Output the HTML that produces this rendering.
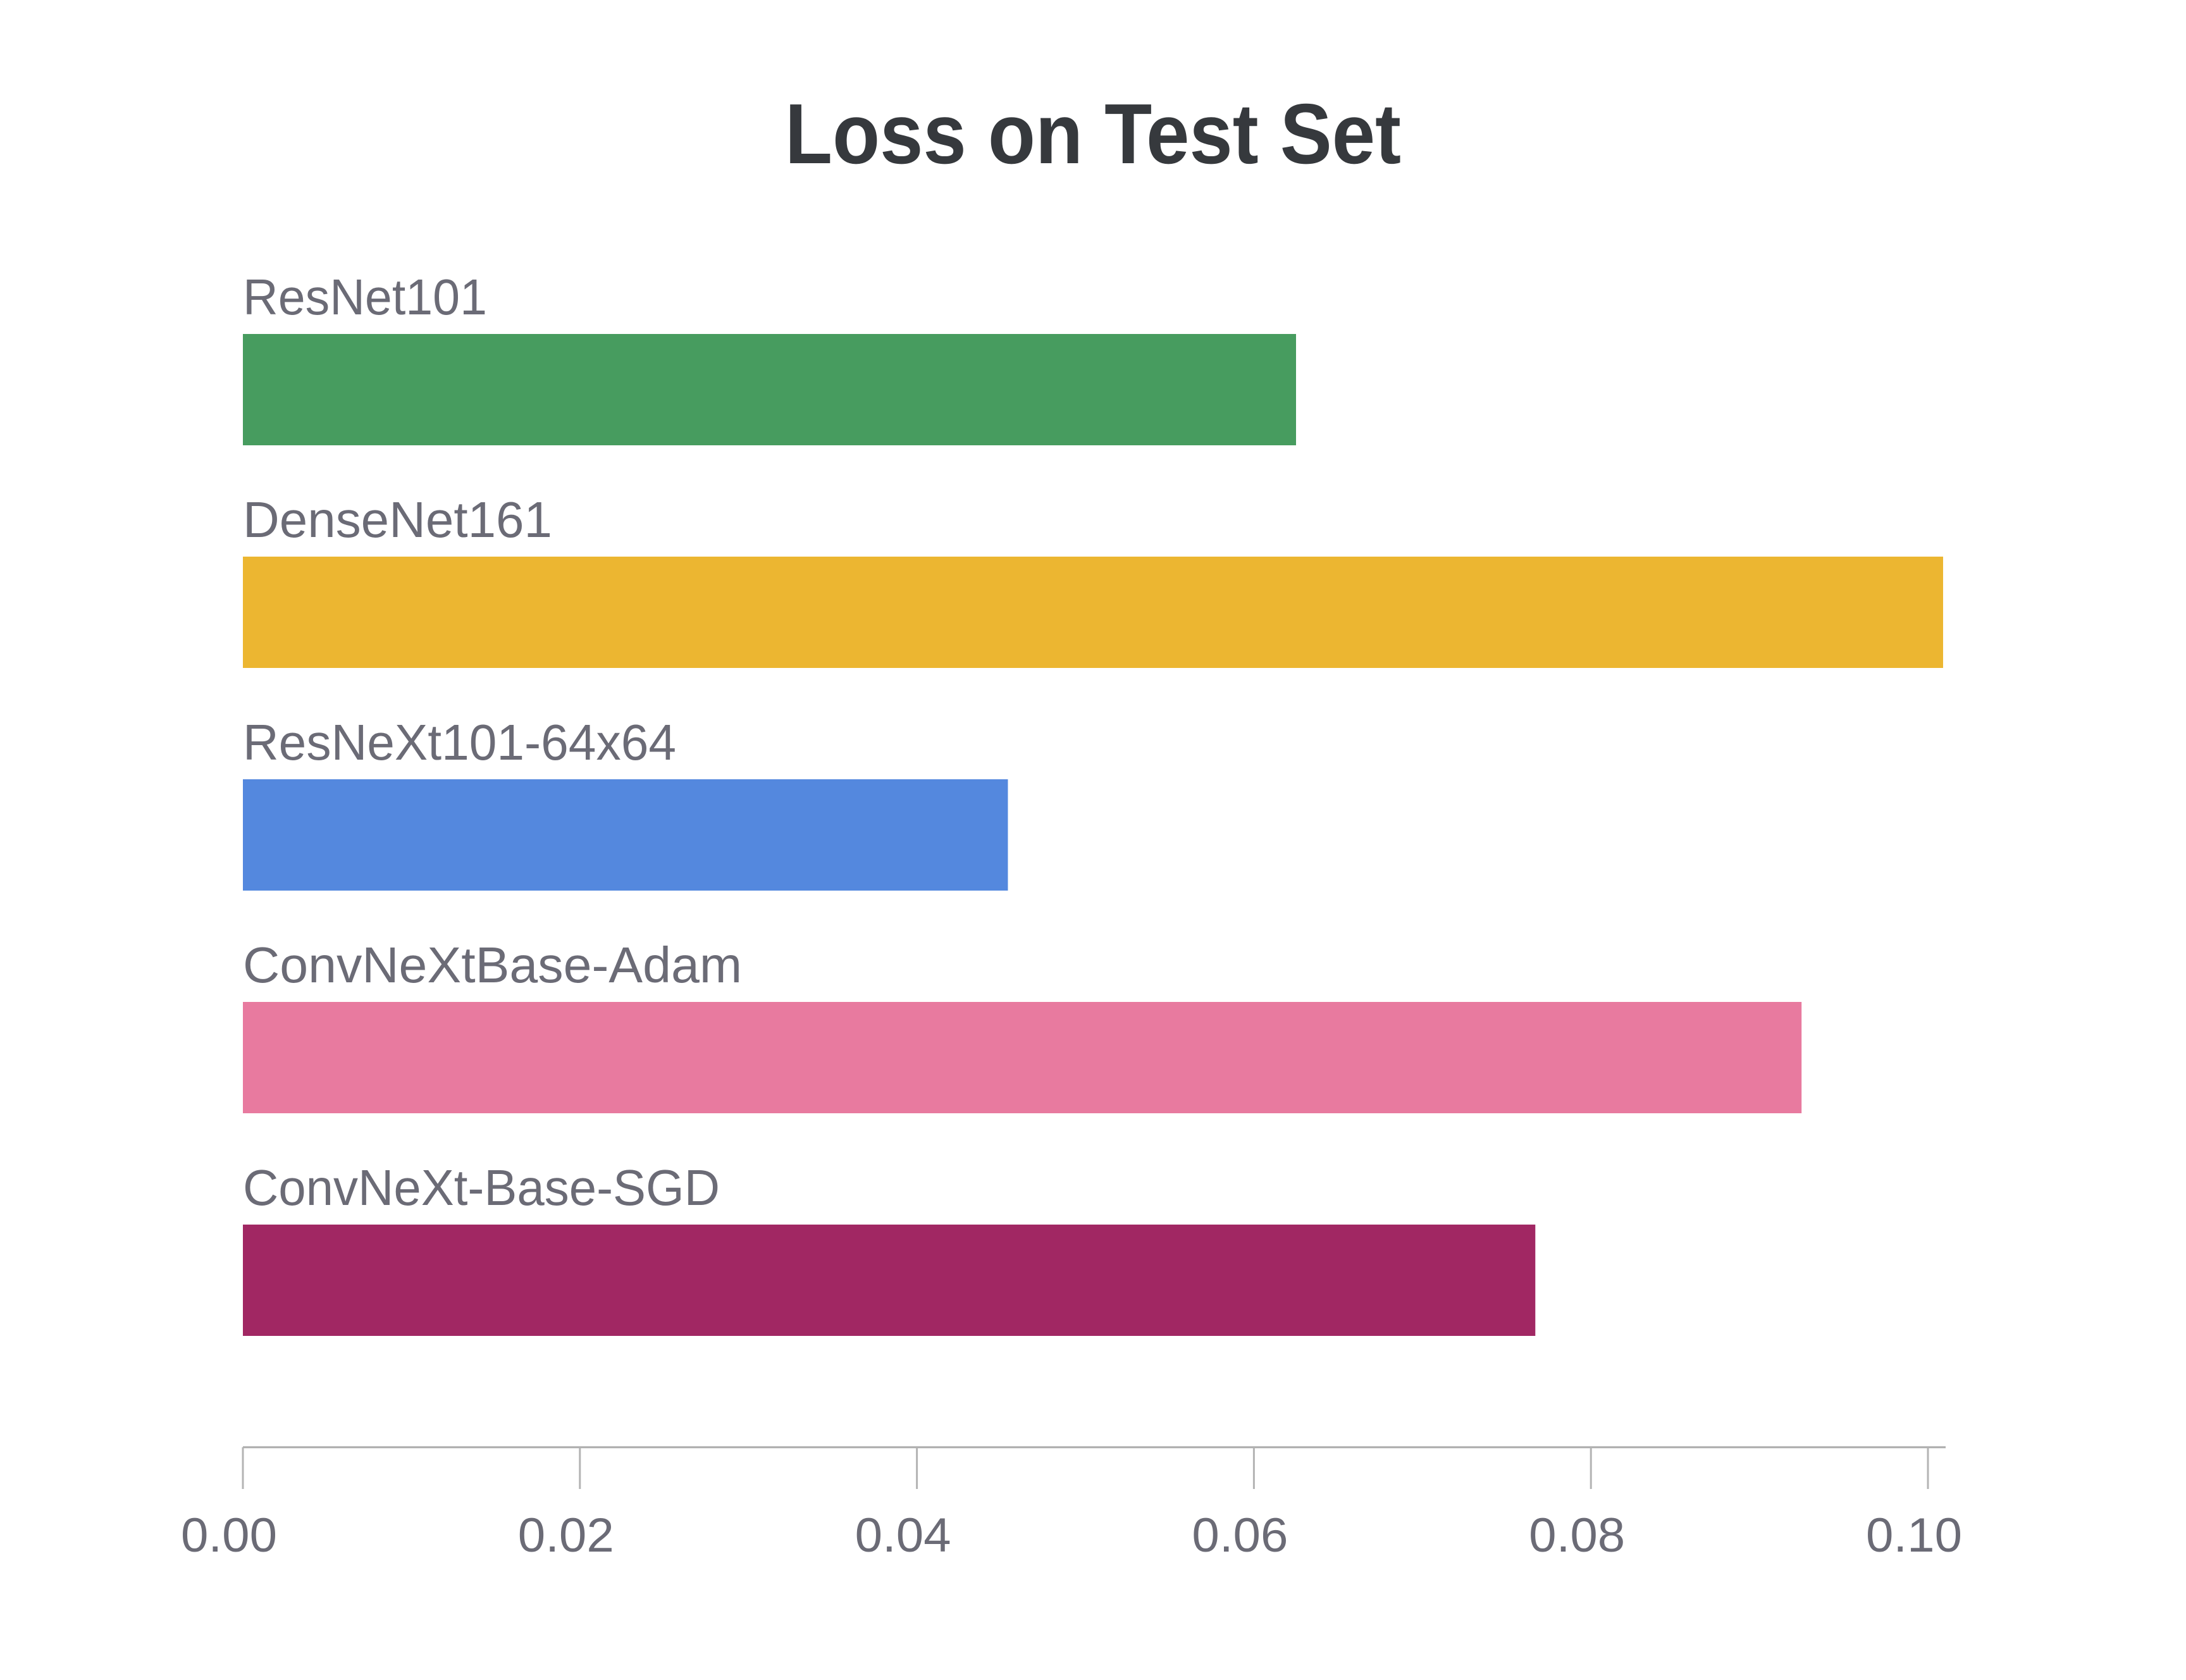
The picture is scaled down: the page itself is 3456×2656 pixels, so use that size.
<!DOCTYPE html>
<html><head><meta charset="utf-8"><style>
html,body{margin:0;padding:0;background:#fff}
svg{display:block}
text{font-family:"Liberation Sans",sans-serif}
</style></head><body>
<svg id="chart" width="3456" height="2656" viewBox="0 0 3456 2656" xmlns="http://www.w3.org/2000/svg">
<rect width="3456" height="2656" fill="#fff"/>
<text x="1728" y="258" text-anchor="middle" font-size="135" font-weight="bold" fill="#36393d" textLength="974" lengthAdjust="spacingAndGlyphs">Loss on Test Set</text>
<g id="bars"></g>
<g id="axis"></g>
</svg>
<script>
const categories = ["ResNet101","DenseNet161","ResNeXt101-64x64","ConvNeXtBase-Adam","ConvNeXt-Base-SGD"];
const values = [0.0625, 0.1009, 0.0454, 0.0925, 0.0767];
const colors = ["#479c5f","#ecb631","#5488de","#e87a9f","#a12763"];
const tickValues = [0, 0.02, 0.04, 0.06, 0.08, 0.10];
const tickLabels = ["0.00","0.02","0.04","0.06","0.08","0.10"];
const labelWidths = [386,489,685,789,754];

const NS = "http://www.w3.org/2000/svg";
const x0 = 384, x1 = 3048;
function xScale(v){ return x0 + (v / 0.10) * (x1 - x0); }
function yBand(i){ return 528 + i * 352; }
const barH = 176;

const gb = document.getElementById('bars');
categories.forEach((c, i) => {
  const t = document.createElementNS(NS, 'text');
  
  
  t.setAttribute('x', x0);
  t.setAttribute('y', yBand(i) - 31);
  t.setAttribute('font-size', '80');
  t.setAttribute('fill', '#6b6b76');
  t.setAttribute('textLength', labelWidths[i]);
  t.setAttribute('lengthAdjust', 'spacingAndGlyphs');
  t.textContent = c;
  gb.appendChild(t);
  const r = document.createElementNS(NS, 'rect');
  
  
  r.setAttribute('x', x0);
  r.setAttribute('y', yBand(i));
  r.setAttribute('width', xScale(values[i]) - x0);
  r.setAttribute('height', barH);
  r.setAttribute('fill', colors[i]);
  gb.appendChild(r);
});

const ga = document.getElementById('axis');
const line = document.createElementNS(NS, 'line');


line.setAttribute('x1', x0); line.setAttribute('x2', 3076);
line.setAttribute('y1', 2288); line.setAttribute('y2', 2288);
line.setAttribute('stroke', '#aaaaaa'); line.setAttribute('stroke-width', '3');
ga.appendChild(line);
tickValues.forEach((v, i) => {
  const tk = document.createElementNS(NS, 'line');
  
  
  tk.setAttribute('x1', xScale(v)); tk.setAttribute('x2', xScale(v));
  tk.setAttribute('y1', 2288); tk.setAttribute('y2', 2354);
  tk.setAttribute('stroke', '#b4b4b4'); tk.setAttribute('stroke-width', '3');
  ga.appendChild(tk);
  const tl = document.createElementNS(NS, 'text');
  
  
  tl.setAttribute('x', xScale(v) - 22);
  tl.setAttribute('y', 2453);
  tl.setAttribute('text-anchor', 'middle');
  tl.setAttribute('font-size', '76');
  tl.setAttribute('fill', '#6b6b76');
  tl.setAttribute('textLength', '152');
  tl.setAttribute('lengthAdjust', 'spacingAndGlyphs');
  tl.textContent = tickLabels[i];
  ga.appendChild(tl);
});
</script>
</body></html>
